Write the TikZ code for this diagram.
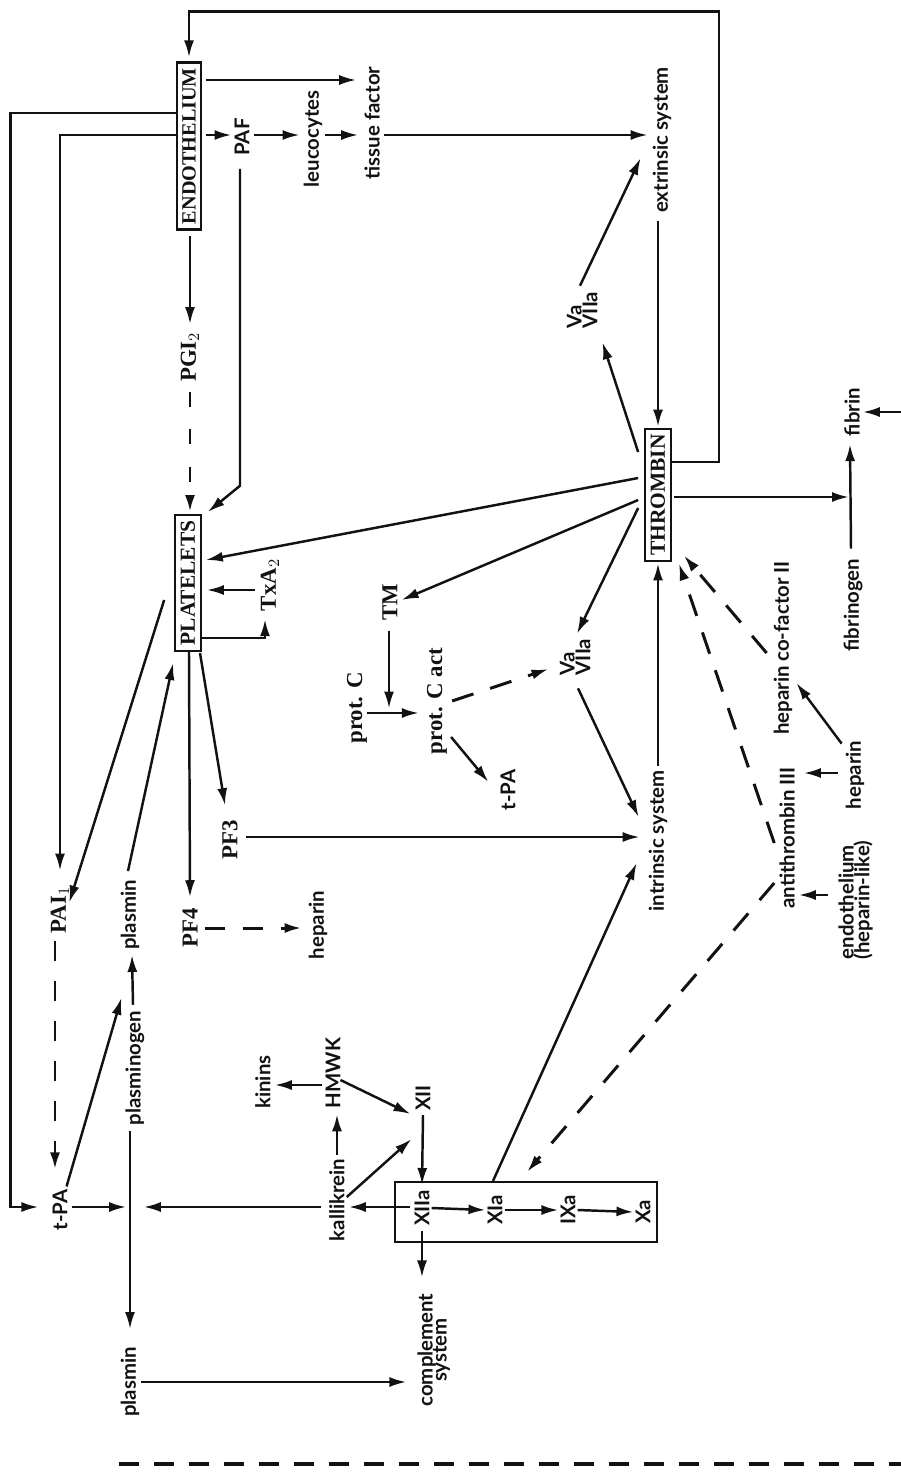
\documentclass[tikz,border=0pt]{standalone}
\usepackage{fontspec}
\setmainfont{Liberation Serif}
\setsansfont{Lato}
\usetikzlibrary{arrows.meta,calc}
\definecolor{inkblack}{RGB}{18,18,18}
\newcommand{\vt}[1]{\rotatebox{90}{#1}}

\begin{document}
\begin{tikzpicture}[x=0.2mm, y=-0.2mm,
  lb/.style={inner sep=1pt, font=\sffamily\bfseries\fontsize{11.6}{13}\selectfont, text=inkblack},
  ls/.style={inner sep=1pt, font=\rmfamily\bfseries\fontsize{13}{14}\selectfont, text=inkblack},
  cell/.style={ls, draw=inkblack, line width=1.3pt, inner sep=1.1mm},
  lnk/.style={draw=inkblack, line width=1.4pt},
  arr/.style={lnk, -{Latex[length=3.4mm,width=2mm]}},
  dsh/.style={arr, line width=1.7pt, dash pattern=on 4.5mm off 3.5mm}]
\useasboundingbox (0,0) rectangle (901,1475);

\node[cell, font=\rmfamily\bfseries\fontsize{11.5}{13}\selectfont] (endo) at (189,146) {\vt{ENDOTHELIUM}};
\node[lb] (tf) at (372,123) {\vt{tissue factor}};
\node[lb] (leuco) at (313,139) {\vt{leucocytes}};
\node[lb] (paf) at (242,137) {\vt{PAF}};
\node[lb] (ext) at (662,140) {\vt{extrinsic system}};
\node[lb] (vaU) at (585,310) {\vt{\begin{tabular}{@{}l@{}}Va\\[-4pt]VIIa\end{tabular}}};
\node[ls] (pgi) at (190,357) {\vt{PGI$_2$}};
\node[cell, font=\rmfamily\bfseries\fontsize{12.2}{14}\selectfont] (plat) at (188,583) {\vt{PLATELETS}};
\node[ls] (txa) at (270,585) {\vt{TxA$_2$}};
\node[ls] (tm) at (390,602) {\vt{TM}};
\node[ls] (protc) at (357,708) {\vt{prot. C}};
\node[ls] (protca) at (437,701) {\vt{prot. C act}};
\node[lb] (vaL) at (578,657) {\vt{\begin{tabular}{@{}l@{}}Va\\[-4pt]VIIa\end{tabular}}};
\node[lb] (tpaM) at (508,790) {\vt{t-PA}};
\node[lb] (intr) at (658,841) {\vt{intrinsic system}};
\node[ls] (pf3) at (230,840) {\vt{PF3}};
\node[ls] (pf4) at (190,928) {\vt{PF4}};
\node[lb] (hepL) at (318,925) {\vt{heparin}};
\node[ls] (pai) at (60,910) {\vt{PAI$_1$}};
\node[lb] (plasU) at (130,915) {\vt{plasmin}};
\node[lb] (tpaL) at (60,1210) {\vt{t-PA}};
\node[lb] (plgn) at (135,1068) {\vt{plasminogen}};
\node[lb] (plasL) at (130,1382) {\vt{plasmin}};
\node[lb] (compl) at (435,1350) {\vt{\begin{tabular}{@{}c@{}}complement\\[-5pt]system\end{tabular}}};
\node[lb] (kall) at (337,1200) {\vt{kallikrein}};
\node[lb] (hmwk) at (333,1073) {\vt{HMWK}};
\node[lb] (kinins) at (263,1082) {\vt{kinins}};
\node[lb] (xii) at (423,1098) {\vt{XII}};
\node[lb] (xiia) at (422,1208) {\vt{XIIa}};
\node[lb] (xia) at (495,1210) {\vt{XIa}};
\node[lb] (ixa) at (568,1210) {\vt{IXa}};
\node[lb] (xa) at (643,1212) {\vt{Xa}};
\node[cell, font=\rmfamily\bfseries\fontsize{12.2}{14}\selectfont] (thr) at (658,495) {\vt{THROMBIN}};
\node[lb] (fibgen) at (853,605) {\vt{fibrinogen}};
\node[lb] (fibrin) at (852,412) {\vt{fibrin}};
\node[lb] (hcf) at (783,648) {\vt{heparin co-factor II}};
\node[lb] (hepR) at (855,775) {\vt{heparin}};
\node[lb] (at3) at (787,838) {\vt{antithrombin III}};
\node[lb] (endoH) at (857,900) {\vt{\begin{tabular}{@{}l@{}}endothelium\\[-4pt](heparin-like)\end{tabular}}};
\coordinate (edgeR) at (901,412);
\coordinate (edgeB) at (901,1464);
\coordinate (jn) at ($(plgn.south |- tpaL.east)+(0,-3)$);

\draw[lnk] ($(xiia.center)+(-27,-26)$) rectangle ($(xa.center)+(14,30)$);

\draw[arr] ($(thr.east)+(0,-33)$) -- ++(47,0) |- ($(endo.north)+(0,-50)$) -- ($(endo.north)+(0,-4)$);
\draw[arr] ($(endo.east)+(4,-66)$) -- ($(tf.west)+(-6,-43)$);
\draw[arr] ($(endo.east)+(4,-11)$) -- ($(paf.west)+(-1,-2)$);
\draw[arr] ($(paf.east)+(3,-2)$) -- ($(leuco.west)+(-2,-4)$);
\draw[arr] ($(leuco.east)+(1,-4)$) -- ($(tf.west)+(-4,12)$);
\draw[arr] ($(tf.east)+(2,12)$) -- ($(ext.west)+(-3,-5)$);
\draw[arr] ($(ext.south)+(-4,6)$) -- ($(thr.north)+(0,-1)$);
\draw[arr] ($(thr.west)+(-6,-43)$) -- ($(vaU.south east)+(-4,12)$);
\draw[arr] ($(vaU.north)+(-5,-4)$) -- ($(ext.west)+(-10,18)$);
\draw[arr] ($(endo.south)+(1,5)$) -- ($(pgi.north)+(0,-6)$);
\draw[dsh, dash pattern=on 3mm off 4.5mm] ($(pgi.south)+(0,8)$) -- ($(plat.north)+(2,-2)$);
\draw[arr] ($(paf.south)+(-2,11)$) -- ($(paf.south)+(-2,328)$) -- ($(plat.north east)+(6,-2)$);
\draw[arr] ($(thr.west)+(-6,-17)$) -- ($(plat.east)+(4,-23)$);
\draw[arr] ($(txa.west)+(-4,5)$) -- ($(plat.east)+(5,7)$);
\draw[arr] ($(plat.east)+(0,55)$) -| ($(txa.south)+(-5,6)$);
\draw[arr] ($(thr.west)+(-6,5)$) -- ($(tm.east)+(2,-2)$);
\draw[arr] ($(tm.south)+(-1,8)$) -- ($(tm.south)+(-1,86)$);
\draw[arr] ($(protc.east)+(-2,5)$) -- ($(protca.west)+(-6,12)$);
\draw[dsh] ($(protca.east)+(3,0)$) -- ($(vaL.west)+(-8,12)$);
\draw[arr] ($(protca.east)+(2,36)$) -- ($(tpaM.west)+(-10,-8)$);
\draw[arr] ($(thr.west)+(-6,13)$) -- ($(vaL.north)+(-1,-3)$);
\draw[arr] ($(vaL.south)+(0,11)$) -- ($(intr.west)+(-8,-24)$);
\draw[arr] ($(intr.north)+(0,-2)$) -- ($(thr.south)+(0,1)$);
\draw[arr] ($(pf3.east)+(6,-3)$) -- ($(intr.west)+(-7,-4)$);
\draw[arr] ($(plat.south)+(12,1)$) -- ($(pf3.north)+(-5,-13)$);
\draw[arr] ($(plat.south)+(1,0)$) -- ($(pf4.north)+(0,-9)$);
\draw[dsh, dash pattern=on 4mm off 3.6mm] ($(pf4.east)+(5,0)$) -- ($(hepL.west)+(-5,3)$);
\draw[arr] ($(endo.west)+(0,-11)$) -| ($(pai.north)+(0,-14)$);
\draw[arr] ($(endo.west)+(0,-33)$) -- ++(-165,0) |- ($(tpaL.west)+(-12,-3)$);
\draw[arr] ($(plat.west)+(-10,17)$) -- ($(pai.north east)+(-2,18)$);
\draw[arr] ($(plasU.north)+(-2,-7)$) -- ($(plat.south west)+(-1,11)$);
\draw[dsh, dash pattern=on 4mm off 4mm] ($(pai.south)+(-5,6)$) -- ($(tpaL.north)+(-5,-18)$);
\draw[arr] ($(tpaL.north east)+(-3,-1)$) -- ($(plgn.north west)+(-2,-11)$);
\draw[arr] ($(plgn.north)+(-2,-4)$) -- ($(plasU.south)+(2,3)$);
\draw[arr, shorten >=5pt] ($(tpaL.east)+(2,-3)$) -- (jn);
\draw[arr, shorten >=5pt] ($(kall.west |- jn)+(-6,0)$) -- (jn);
\draw[arr] ($(plgn.south)+(-5,4)$) -- ($(plasL.north)+(0,-16)$);
\draw[arr] ($(plasL.east)+(0,0)$) -- ($(plasL.east -| compl.west)+(-8,0)$);
\draw[lnk, line width=1.9pt, dash pattern=on 4mm off 3mm] (plasL.south west |- edgeB) -- (edgeB);
\draw[arr] ($(kall.north)+(0,-2)$) -- ($(hmwk.south)+(4,4)$);
\draw[arr] ($(hmwk.west)+(-2,12)$) -- ($(kinins.east)+(2,3)$);
\draw[arr] ($(hmwk.east)+(-2,7)$) -- ($(xii.south west)+(-3,1)$);
\draw[arr] ($(kall.east)+(0,-3)$) -- ($(xii.south west)+(-2,26)$);
\draw[arr] ($(xii.south)+(0,2)$) -- ($(xiia.north)+(0,-3)$);
\draw[arr] ($(xiia.west)+(-2,-1)$) -- ($(xiia.west -| kall.east)+(2,-1)$);
\draw[arr] ($(xiia.south)+(0,3)$) -- ($(xiia.south |- compl.north)+(0,-14)$);
\draw[arr] (xiia.east) -- (xia.west);
\draw[arr] (xia.east) -- (ixa.west);
\draw[arr] (ixa.east) -- (xa.west);
\draw[arr] ($(xia.north)+(-2,-12)$) -- ($(intr.west)+(-10,22)$);
\draw[arr] ($(thr.east)+(2,2)$) -- ($(thr.east -| fibgen.north)+(-4,2)$);
\draw[arr] ($(fibgen.north)+(-2,-8)$) -- ($(fibrin.south)+(-2,6)$);
\draw[arr] (edgeR) -- ($(fibrin.east)+(1,0)$);
\draw[dsh] ($(hcf.west)+(-5,5)$) -- ($(thr.south east)+(12,-7)$);
\draw[dsh] ($(at3.west)+(-3,5)$) -- ($(thr.south east)+(7,1)$);
\draw[dsh] ($(at3.west)+(-3,45)$) -- ($(xia.north)+(32,-21)$);
\draw[arr] ($(hepR.north west)+(-2,5)$) -- ($(hcf.east)+(2,35)$);
\draw[arr] ($(hepR.west)+(-6,-2)$) -- ($(at3.east |- hepR.west)+(7,-2)$);
\draw[arr] ($(endoH.west)+(-8,-5)$) -- ($(at3.east |- endoH.west)+(2,-5)$);
\end{tikzpicture}
\end{document}
